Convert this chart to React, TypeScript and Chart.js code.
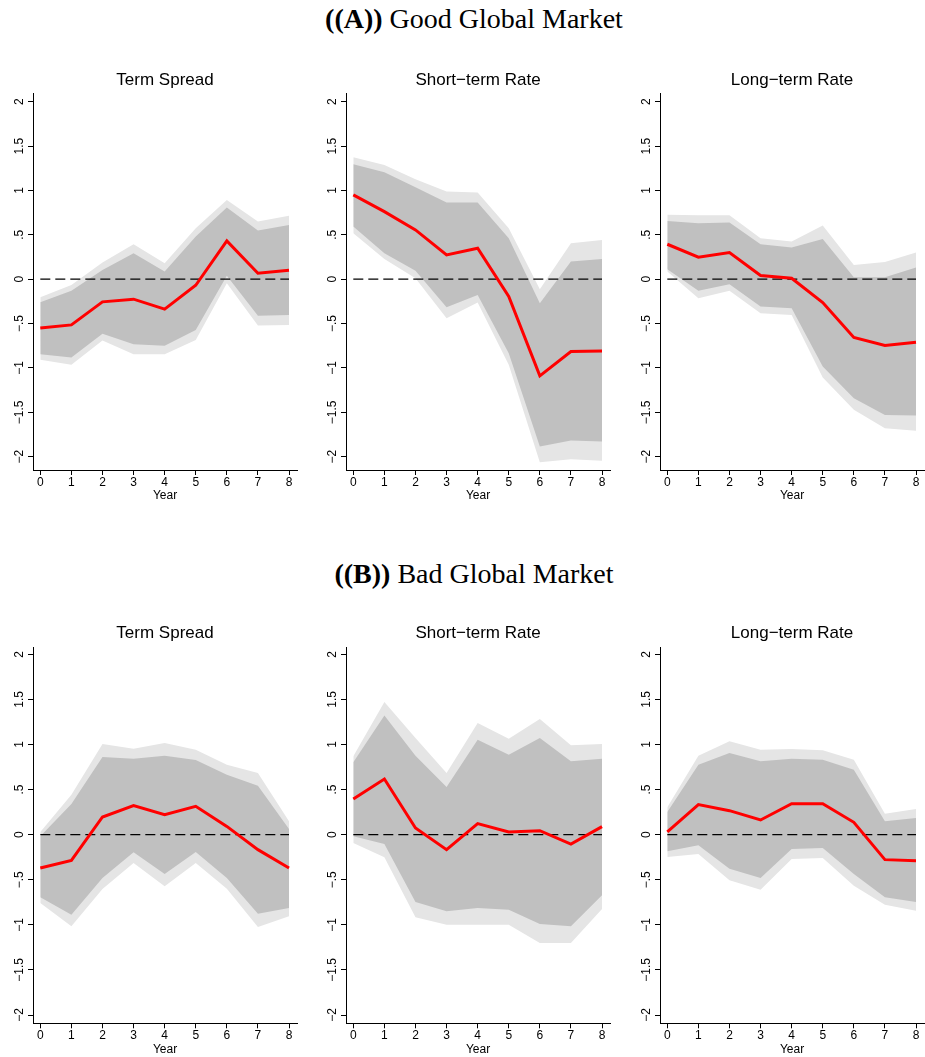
import React, { useEffect, useRef } from 'react';
import { Chart, registerables } from 'chart.js';

Chart.register(...registerables);
Chart.defaults.font.family = '"Liberation Sans", Arial, sans-serif';

// Horizon (years after the shock) and axis ticks
const years = [0, 1, 2, 3, 4, 5, 6, 7, 8];
const zeroLine = [0, 0, 0, 0, 0, 0, 0, 0, 0];
const yTickValues = [-2, -1.5, -1, -0.5, 0, 0.5, 1, 1.5, 2];
const yTickLabels = ['−2', '−1.5', '−1', '−.5', '0', '.5', '1', '1.5', '2'];

const sectionTitles = ['Good Global Market', 'Bad Global Market'];
const sectionTags = ['((A))', '((B))'];
const panelTitles = ['Term Spread', 'Short−term Rate', 'Long−term Rate'];

// (A) Good global market — term spread
const goodSpreadIrf = [-0.55, -0.515, -0.255, -0.225, -0.338, -0.068, 0.432, 0.068, 0.101];
const goodSpreadHi90 = [-0.203, -0.064, 0.188, 0.394, 0.18, 0.575, 0.894, 0.65, 0.714];
const goodSpreadHi68 = [-0.26, -0.13, 0.105, 0.293, 0.086, 0.48, 0.807, 0.548, 0.612];
const goodSpreadLo68 = [-0.845, -0.883, -0.616, -0.732, -0.751, -0.571, 0.038, -0.413, -0.402];
const goodSpreadLo90 = [-0.909, -0.965, -0.691, -0.845, -0.845, -0.684, -0.045, -0.522, -0.515];

// (A) Good global market — short-term rate
const goodShortIrf = [0.95, 0.762, 0.556, 0.274, 0.349, -0.195, -1.089, -0.815, -0.808];
const goodShortHi90 = [1.375, 1.288, 1.127, 0.988, 0.977, 0.575, -0.113, 0.406, 0.443];
const goodShortHi68 = [1.296, 1.206, 1.037, 0.864, 0.864, 0.462, -0.27, 0.199, 0.229];
const goodShortLo68 = [0.593, 0.293, 0.094, -0.315, -0.177, -0.834, -1.885, -1.818, -1.829];
const goodShortLo90 = [0.518, 0.229, 0.011, -0.439, -0.263, -0.965, -2.062, -2.028, -2.047];

// (A) Good global market — long-term rate
const goodLongIrf = [0.394, 0.248, 0.3, 0.041, 0.011, -0.263, -0.657, -0.747, -0.71];
const goodLongHi90 = [0.725, 0.721, 0.721, 0.462, 0.424, 0.605, 0.161, 0.195, 0.3];
const goodLongHi68 = [0.657, 0.631, 0.638, 0.394, 0.357, 0.454, 0.023, 0.023, 0.131];
const goodLongLo68 = [0.113, -0.131, -0.056, -0.308, -0.327, -0.984, -1.341, -1.529, -1.536];
const goodLongLo90 = [0.086, -0.214, -0.131, -0.383, -0.402, -1.108, -1.472, -1.679, -1.709];

// (B) Bad global market — term spread
const badSpreadIrf = [-0.37, -0.285, 0.196, 0.322, 0.222, 0.314, 0.092, -0.166, -0.37];
const badSpreadHi90 = [0.03, 0.444, 1.006, 0.954, 1.017, 0.943, 0.776, 0.684, 0.148];
const badSpreadHi68 = [-0.018, 0.34, 0.861, 0.843, 0.876, 0.828, 0.665, 0.543, 0.063];
const badSpreadLo68 = [-0.695, -0.887, -0.481, -0.196, -0.436, -0.192, -0.481, -0.876, -0.813];
const badSpreadLo90 = [-0.758, -1.017, -0.603, -0.314, -0.573, -0.314, -0.599, -1.024, -0.906];

// (B) Bad global market — short-term rate
const badShortIrf = [0.396, 0.617, 0.074, -0.166, 0.122, 0.03, 0.044, -0.104, 0.089];
const badShortHi90 = [0.869, 1.471, 1.072, 0.684, 1.238, 1.065, 1.283, 0.991, 1.006];
const badShortHi68 = [0.802, 1.323, 0.876, 0.529, 1.054, 0.887, 1.072, 0.813, 0.843];
const badShortLo68 = [-0.018, -0.104, -0.747, -0.85, -0.813, -0.832, -0.991, -1.017, -0.673];
const badShortLo90 = [-0.092, -0.251, -0.917, -0.998, -0.998, -0.998, -1.201, -1.201, -0.824];

// (B) Bad global market — long-term rate
const badLongIrf = [0.03, 0.333, 0.266, 0.163, 0.344, 0.344, 0.137, -0.277, -0.288];
const badLongHi90 = [0.303, 0.876, 1.035, 0.943, 0.95, 0.935, 0.832, 0.233, 0.285];
const badLongHi68 = [0.251, 0.776, 0.906, 0.813, 0.843, 0.832, 0.721, 0.148, 0.185];
const badLongLo68 = [-0.185, -0.118, -0.377, -0.481, -0.159, -0.148, -0.436, -0.695, -0.747];
const badLongLo90 = [-0.248, -0.214, -0.506, -0.61, -0.27, -0.259, -0.566, -0.776, -0.843];

type Series = { irf: number[]; hi90: number[]; hi68: number[]; lo68: number[]; lo90: number[] };

const goodPanels: Series[] = [
  { irf: goodSpreadIrf, hi90: goodSpreadHi90, hi68: goodSpreadHi68, lo68: goodSpreadLo68, lo90: goodSpreadLo90 },
  { irf: goodShortIrf, hi90: goodShortHi90, hi68: goodShortHi68, lo68: goodShortLo68, lo90: goodShortLo90 },
  { irf: goodLongIrf, hi90: goodLongHi90, hi68: goodLongHi68, lo68: goodLongLo68, lo90: goodLongLo90 },
];
const badPanels: Series[] = [
  { irf: badSpreadIrf, hi90: badSpreadHi90, hi68: badSpreadHi68, lo68: badSpreadLo68, lo90: badSpreadLo90 },
  { irf: badShortIrf, hi90: badShortHi90, hi68: badShortHi68, lo68: badShortLo68, lo90: badShortLo90 },
  { irf: badLongIrf, hi90: badLongHi90, hi68: badLongHi68, lo68: badLongLo68, lo90: badLongLo90 },
];

// Layout of the grid of panels
const X_MIN = -0.235;
const X_MAX = 8.257;
const CANVAS_W = 298;
const Y_AXIS_W = 33;
const panelLefts = [0, 313, 627];

type RowLayout = {
  top: number;
  height: number;
  yMin: number;
  yMax: number;
  titlePad: { top: number; bottom: number };
  xAxisHeight: number;
  yearPad: number;
  headingTop: number;
};

const rowLayouts: RowLayout[] = [
  { top: 60, height: 450, yMin: -2.15, yMax: 2.095, titlePad: { top: 9.8, bottom: 3.1 }, xAxisHeight: 40, yearPad: 7, headingTop: 5 },
  { top: 612, height: 445, yMin: -2.092, yMax: 2.078, titlePad: { top: 10.8, bottom: 4.1 }, xAxisHeight: 33.7, yearPad: 0, headingTop: 560 },
];

const INNER_BAND = '#c0c0c0';
const OUTER_BAND = '#e5e5e5';

// Vertical tick labels, read bottom-to-top, placed from the y scale
const rotatedYLabels = {
  id: 'rotatedYLabels',
  afterDraw(chart: any) {
    const scale = chart.scales.y;
    const ctx = chart.ctx as CanvasRenderingContext2D;
    ctx.save();
    ctx.font = '12px "Liberation Sans", Arial, sans-serif';
    ctx.fillStyle = '#000';
    ctx.textAlign = 'center';
    ctx.textBaseline = 'middle';
    const x = chart.chartArea.left - 13.5;
    yTickValues.forEach((v, i) => {
      const y = scale.getPixelForValue(v);
      ctx.save();
      ctx.translate(x, y);
      ctx.rotate(-Math.PI / 2);
      ctx.fillText(yTickLabels[i], 0, 0);
      ctx.restore();
    });
    ctx.restore();
  },
};

const points = (arr: number[]) => years.map((x, i) => ({ x, y: arr[i] }));

function band(arr: number[], color: string, fill: any, order: number) {
  return {
    data: points(arr),
    borderColor: 'rgba(0,0,0,0)',
    borderWidth: 0,
    backgroundColor: color,
    fill,
    pointRadius: 0,
    order,
  };
}

function Panel({ series, title, left, row }: { series: Series; title: string; left: number; row: RowLayout }) {
  const ref = useRef<HTMLCanvasElement>(null);

  useEffect(() => {
    if (!ref.current) return;
    const axisGrid = { drawOnChartArea: false, drawTicks: true, tickLength: 5, color: '#000', lineWidth: 1 };
    const axisBorder = { display: true, color: '#000', width: 1 };
    const chart = new Chart(ref.current, {
      type: 'line',
      data: {
        datasets: [
          { data: points(series.irf), borderColor: '#ff0000', borderWidth: 3, pointRadius: 0, fill: false, order: 0 },
          { data: points(zeroLine), borderColor: '#000', borderWidth: 1.2, borderDash: [10, 5], pointRadius: 0, fill: false, order: 1 },
          band(series.hi68, INNER_BAND, '+1', 2),
          band(series.lo68, INNER_BAND, false, 2),
          band(series.hi90, OUTER_BAND, '+1', 3),
          band(series.lo90, OUTER_BAND, false, 3),
        ] as any,
      },
      options: {
        responsive: false,
        animation: false,
        devicePixelRatio: 1,
        layout: { padding: { left: 0, right: CANVAS_W - Y_AXIS_W - 264, top: 0, bottom: 0 } },
        plugins: {
          legend: { display: false },
          tooltip: { enabled: false },
          title: {
            display: true,
            text: title,
            color: '#000',
            fullSize: false,
            font: { size: 17, weight: 'normal' },
            padding: row.titlePad,
          },
        },
        scales: {
          x: {
            type: 'linear',
            min: X_MIN,
            max: X_MAX,
            afterBuildTicks: (s: any) => {
              s.ticks = years.map((v) => ({ value: v }));
            },
            afterFit: (s: any) => {
              s.height = row.xAxisHeight;
            },
            grid: axisGrid,
            border: axisBorder,
            ticks: { color: '#000', font: { size: 12 }, padding: 0, maxRotation: 0, autoSkip: false },
            title: { display: true, text: 'Year', color: '#000', font: { size: 12 }, padding: { top: 0, bottom: row.yearPad } },
          },
          y: {
            type: 'linear',
            min: row.yMin,
            max: row.yMax,
            afterBuildTicks: (s: any) => {
              s.ticks = yTickValues.map((v) => ({ value: v }));
            },
            afterFit: (s: any) => {
              s.width = Y_AXIS_W;
            },
            grid: axisGrid,
            border: axisBorder,
            ticks: { display: false },
          },
        },
      } as any,
      plugins: [rotatedYLabels],
    });
    return () => chart.destroy();
  }, [series, title, row]);

  return (
    <canvas
      ref={ref}
      width={CANVAS_W}
      height={row.height}
      style={{ position: 'absolute', left, top: row.top, width: CANVAS_W, height: row.height }}
    />
  );
}

function Heading({ tag, text, top }: { tag: string; text: string; top: number }) {
  return (
    <div
      style={{
        position: 'absolute',
        left: 274,
        top,
        width: 400,
        textAlign: 'center',
        fontFamily: '"Liberation Serif", "Times New Roman", serif',
        fontSize: 28,
        lineHeight: '28px',
        color: '#000',
        whiteSpace: 'nowrap',
      }}
    >
      <b>{tag}</b> {text}
    </div>
  );
}

export default function App() {
  const rows = [goodPanels, badPanels];
  return (
    <div
      style={{
        position: 'absolute',
        left: 0,
        top: 0,
        width: 925,
        height: 1057,
        overflow: 'hidden',
        background: '#fff',
      }}
    >
      {rows.map((panels, r) => (
        <React.Fragment key={r}>
          <Heading tag={sectionTags[r]} text={sectionTitles[r]} top={rowLayouts[r].headingTop} />
          {panels.map((s, c) => (
            <Panel key={c} series={s} title={panelTitles[c]} left={panelLefts[c]} row={rowLayouts[r]} />
          ))}
        </React.Fragment>
      ))}
    </div>
  );
}
